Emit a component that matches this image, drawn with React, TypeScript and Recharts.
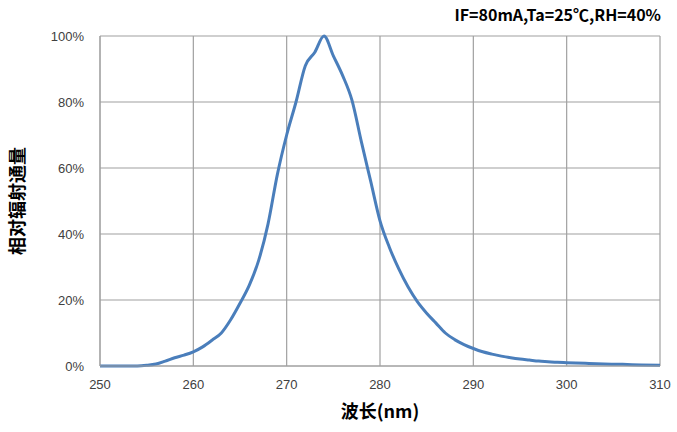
import React from "react";
import {
  LineChart,
  Line,
  XAxis,
  YAxis,
  CartesianGrid,
} from "recharts";

// wavelength (nm) and relative radiant flux (%)
const wavelengths = [
  250, 251, 252, 253, 254, 255, 256, 257, 258, 259, 260, 261, 262, 263, 264,
  265, 266, 267, 268, 269, 270, 271, 272, 273, 274, 275, 276, 277, 278, 279,
  280, 281, 282, 283, 284, 285, 286, 287, 288, 289, 290, 291, 292, 293, 294,
  295, 296, 297, 298, 299, 300, 302, 304, 306, 308, 310,
];
const flux = [
  0, 0, 0, 0, 0, 0.2, 0.6, 1.5, 2.5, 3.3, 4.3, 5.8, 7.8, 10, 14,
  19, 24.5, 32, 43, 58, 70, 80, 91, 95, 100, 94, 88, 80.5, 68, 56,
  44, 36, 29.5, 24, 19.5, 16, 13, 10, 8, 6.5, 5.3, 4.3, 3.6, 3.0, 2.5,
  2.1, 1.8, 1.5, 1.3, 1.1, 1.0, 0.8, 0.6, 0.5, 0.3, 0.2,
];

const xTicks = [250, 260, 270, 280, 290, 300, 310];
const yTicks = [0, 20, 40, 60, 80, 100];

const data = wavelengths.map((w, i) => ({ nm: w, value: flux[i] }));

const tickFont = { fontSize: 13, fill: "#404040", fontFamily: "'Liberation Sans', Arial, sans-serif" };

export default function App() {
  return (
    <div style={{ position: "absolute", left: 0, top: 0, width: 677, height: 432, background: "#fff" }}>
      <div
        style={{
          position: "absolute",
          right: 16,
          top: 2,
          fontFamily: "'Noto Sans CJK SC', 'Liberation Sans', sans-serif",
          fontWeight: 700,
          fontSize: 16,
          color: "#000",
        }}
      >
        IF=80mA,Ta=25℃,RH=40%
      </div>
      <LineChart
        width={677}
        height={432}
        data={data}
        margin={{ top: 36, right: 17, left: 0, bottom: 26 }}
      >
        <CartesianGrid stroke="#a0a0a0" strokeWidth={1.2} />
        <XAxis
          dataKey="nm"
          type="number"
          domain={[250, 310]}
          ticks={xTicks}
          tickLine={false}
          axisLine={{ stroke: "#a0a0a0" }}
          tick={tickFont}
          tickMargin={8}
          height={40}
          label={{
            value: "波长(nm)",
            position: "insideBottom",
            offset: -12,
            style: { fontSize: 18, fontWeight: 700, fill: "#000", fontFamily: "'Noto Sans CJK SC', sans-serif" },
          }}
        />
        <YAxis
          type="number"
          domain={[0, 100]}
          ticks={yTicks}
          tickFormatter={(v) => `${v}%`}
          tickLine={false}
          axisLine={{ stroke: "#a0a0a0" }}
          tick={tickFont}
          tickMargin={10}
          width={100}
          label={{
            value: "相对辐射通量",
            angle: -90,
            position: "insideLeft",
            offset: 18,
            style: { fontSize: 18, fontWeight: 700, fill: "#000", fontFamily: "'Noto Sans CJK SC', sans-serif", textAnchor: "middle" },
          }}
        />
        <Line
          type="monotone"
          dataKey="value"
          stroke="#4a7ebb"
          strokeWidth={3}
          dot={false}
          isAnimationActive={false}
        />
      </LineChart>
    </div>
  );
}
